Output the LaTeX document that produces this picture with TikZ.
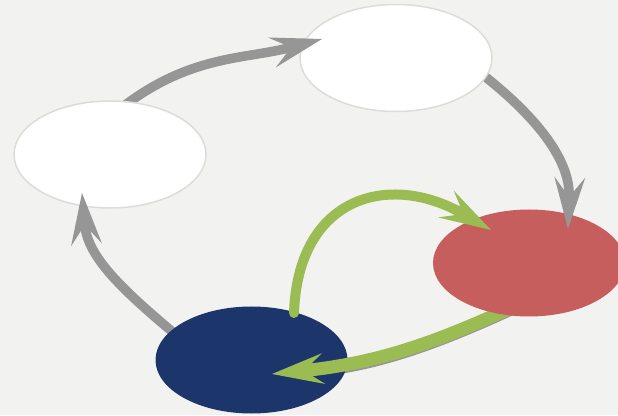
\documentclass[tikz,border=0pt]{standalone}
\usepackage{xcolor}
\usetikzlibrary{calc,arrows.meta,shapes.geometric}

\definecolor{bggray}{HTML}{F2F2F1}
\definecolor{rimgray}{HTML}{DCDCD9}
\definecolor{arrowgray}{HTML}{969696}
\definecolor{leafgreen}{HTML}{9BBB53}
\definecolor{brickred}{HTML}{C55E5C}
\definecolor{navyblue}{HTML}{1C356B}

\pgfdeclarelayer{paper}
\pgfdeclarelayer{shafts}
\pgfsetlayers{paper,shafts,main}

\begin{document}
\begin{tikzpicture}[x=1pt,y=1pt]

% This determines how the ellipses and arrows will look.
\tikzstyle{blob}=[ellipse,inner sep=0pt,outer sep=0pt,minimum width=192pt,minimum height=107pt]
\tikzstyle{whiteblob}=[blob,fill=white,draw=rimgray,line width=1.5pt]
\tikzstyle{grayarrow}=[draw=arrowgray,line width=9.5pt,shorten <=-6pt,
-{Stealth[length=52pt,width=31pt,inset=20pt,line width=0pt]}]
\tikzstyle{greenarrow}=[draw=leafgreen,line width=10pt,
-{Stealth[length=52pt,width=31pt,inset=20pt,line width=0pt]}]
\tikzstyle{grayline}=[draw=arrowgray,line width=13pt]

\useasboundingbox (0,0) rectangle (618,415);
\begin{pgfonlayer}{paper}
\fill[bggray] (0,0) rectangle (618,415);
\end{pgfonlayer}

% This draws the ellipses.
\node[whiteblob] (Top) at (396,357) {};
\node[whiteblob] (Left) at (110,260.5) {};
\node[blob,fill=brickred] (Red) at (529,152) {};
\node[blob,fill=navyblue] (Blue) at (251.5,55) {};

% These are the points where the arrows start and end.
\coordinate (TopIn) at ($(Top.center)+(-74,19)$);
\coordinate (RedIn) at ($(Red.center)+(39,34)$);
\coordinate (LeftIn) at ($(Left.center)+(-28,-38.5)$);
\coordinate (BlueIn) at ($(Blue.center)+(20.5,-14)$);
\coordinate (BlueTop) at ($(Blue.center)+(42.5,47)$);
\coordinate (RedLeft) at ($(Red.center)+(-38,33)$);
\coordinate (RedOut) at ($(Red.center)+(-12,-42)$);

% This draws the arrows, their tails slip under the ellipses.
\begin{pgfonlayer}{shafts}
\draw[grayarrow] (Left.70) to[out=37,in=195] (TopIn);
\draw[grayarrow] (Top.-12) to[out=-38,in=88] (RedIn);
\draw[grayarrow] (Blue.160) to[out=140,in=-85] (LeftIn);
\draw[grayline,transform canvas={yshift=-1.2pt},shorten >=45pt] (RedOut) to[out=205,in=6] (BlueIn);
\draw[greenarrow,line width=13pt] (RedOut) to[out=205,in=6] (BlueIn);
\end{pgfonlayer}

% This redraws the heads on top of the ellipses they point into.
\begin{scope}
\clip (Top.center) ellipse [x radius=98pt,y radius=55pt];
\draw[grayarrow] (Left.70) to[out=37,in=195] (TopIn);
\end{scope}
\begin{scope}
\clip (Red.center) ellipse [x radius=98pt,y radius=55pt];
\draw[grayarrow] (Top.-12) to[out=-38,in=88] (RedIn);
\end{scope}
\begin{scope}
\clip (Left.center) ellipse [x radius=98pt,y radius=55pt];
\draw[grayarrow] (Blue.160) to[out=140,in=-85] (LeftIn);
\end{scope}
\begin{scope}
\clip (Blue.center) ellipse [x radius=98pt,y radius=55pt];
\draw[greenarrow,line width=13pt] (RedOut) to[out=205,in=6] (BlueIn);
\end{scope}

% This draws the green loop back from blue to red.
\draw[greenarrow,line cap=round] (BlueTop) to[out=88,in=150,looseness=1.4] (RedLeft);

\end{tikzpicture}
\end{document}
